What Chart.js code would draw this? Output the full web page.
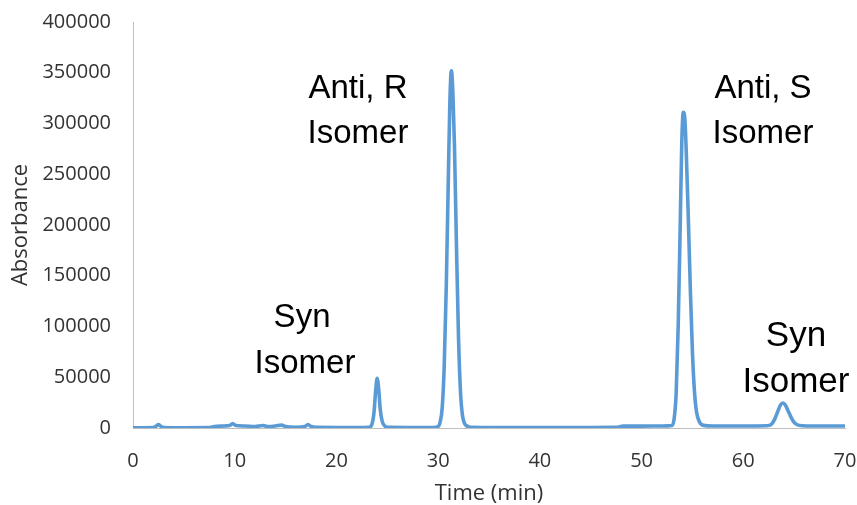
<!DOCTYPE html>
<html>
<head>
<meta charset="utf-8">
<script src="https://cdn.jsdelivr.net/npm/chart.js@4/dist/chart.umd.min.js"></script>
<style>
  html, body { margin: 0; padding: 0; background: #ffffff; }
  #wrap { width: 857px; height: 505px; }
</style>
</head>
<body>
<div id="wrap"><canvas id="c" width="857" height="505"></canvas></div>
<script>
// ---- Data ----
const timeMin = [
  0, 1, 2, 2.3, 2.5, 2.7, 3.0, 5, 7.5, 8, 9, 9.5, 9.8, 10.1, 11, 12, 12.8, 13.2, 14, 14.6,
  15, 16, 16.9, 17.2, 17.5, 18, 20, 22, 23.2, 23.5, 23.7, 23.85, 24.0, 24.15, 24.3, 24.5, 24.8, 25.2,
  27, 29.5, 30.0, 30.2, 30.4, 30.6, 30.8, 31.0, 31.15, 31.3, 31.45, 31.6, 31.8, 32.0, 32.2, 32.4, 32.7, 33.2,
  36, 40, 44, 47.5, 48.2, 50, 52, 53.0, 53.2, 53.4, 53.6, 53.8, 53.95, 54.1, 54.25, 54.4, 54.6, 54.8,
  55.0, 55.2, 55.4, 55.7, 56.1, 57, 60, 62.3, 62.8, 63.1, 63.4, 63.65, 63.9, 64.15, 64.4, 64.7, 65.0,
  65.3, 65.8, 67, 70
];
const absorbance = [
  300, 300, 400, 2000, 3500, 2000, 500, 300, 400, 1500, 2000, 2500, 4500, 2500, 2000, 1500, 2500, 1500, 2000, 2800,
  1500, 800, 1500, 3500, 1500, 600, 500, 500, 800, 4000, 16000, 36000, 49000, 39000, 19000, 6500, 1500, 600,
  500, 500, 1500, 6000, 20000, 62000, 140000, 245000, 320000, 352000, 330000, 280000, 180000, 90000, 35000, 12000, 3000, 800,
  500, 400, 500, 600, 1800, 1800, 2000, 2500, 9000, 34000, 100000, 200000, 280000, 311000, 305000, 270000, 205000, 135000,
  75000, 36000, 16000, 6000, 2600, 2000, 2000, 2200, 4000, 9000, 16500, 22500, 24600, 22500, 17000, 10500, 5500,
  3200, 2200, 2000, 2000
];
const xTicks = [0, 10, 20, 30, 40, 50, 60, 70];
const yTicks = [0, 50000, 100000, 150000, 200000, 250000, 300000, 350000, 400000];
const xTitle = "Time (min)";
const yTitle = "Absorbance";
// Peak labels: text line, anchored at (time, absorbance) = centre / baseline of the text
const peakLabels = [
  { text: "Anti, R", t: 22.12, a: 325100, size: 33 },
  { text: "Isomer",  t: 22.12, a: 280800, size: 33 },
  { text: "Syn",     t: 16.62, a: 99500,  size: 33 },
  { text: "Isomer",  t: 16.91, a: 54200,  size: 33 },
  { text: "Anti, S", t: 61.94, a: 325100, size: 33 },
  { text: "Isomer",  t: 61.94, a: 280800, size: 33 },
  { text: "Syn",     t: 65.18, a: 80800,  size: 35 },
  { text: "Isomer",  t: 65.18, a: 35500,  size: 35 }
];

const points = timeMin.map((t, i) => ({ x: t, y: absorbance[i] }));

const peakLabelPlugin = {
  id: 'peakLabels',
  afterDatasetsDraw(chart) {
    const { ctx, scales: { x, y } } = chart;
    ctx.save();
    ctx.fillStyle = '#000000';
    ctx.textAlign = 'center';
    ctx.textBaseline = 'alphabetic';
    peakLabels.forEach(l => {
      ctx.font = l.size + 'px "Liberation Sans", Arial, sans-serif';
      ctx.fillText(l.text, x.getPixelForValue(l.t), y.getPixelForValue(l.a));
    });
    ctx.restore();
  }
};

new Chart(document.getElementById('c'), {
  type: 'line',
  data: {
    datasets: [{
      label: 'Absorbance',
      data: points,
      borderColor: '#5B9BD5',
      borderWidth: 3.6,
      pointRadius: 0,
      fill: false,
      cubicInterpolationMode: 'monotone',
      borderJoinStyle: 'round',
      borderCapStyle: 'round'
    }]
  },
  options: {
    responsive: false,
    devicePixelRatio: 1,
    animation: false,
    layout: { padding: { top: 22, right: 12, left: 0, bottom: 0 } },
    plugins: { legend: { display: false }, tooltip: { enabled: false } },
    scales: {
      x: {
        type: 'linear',
        min: 0, max: 70,
        afterFit: s => { s.height = 77; s.paddingLeft = 0; s.paddingRight = 0; },
        afterBuildTicks: s => { s.ticks = xTicks.map(v => ({ value: v })); },
        grid: { display: false, drawTicks: false },
        border: { display: true, color: '#BFBFBF', width: 1 },
        ticks: {
          padding: 21,
          color: '#333333',
          font: { family: '"Open Sans", sans-serif', size: 20 },
          maxRotation: 0,
          callback: v => String(v)
        },
        title: {
          display: true, text: xTitle, color: '#333333',
          font: { family: '"Open Sans", sans-serif', size: 22, lineHeight: 1.0 },
          padding: { top: 0, bottom: 0 }
        }
      },
      y: {
        type: 'linear',
        min: 0, max: 400000,
        afterFit: s => { s.width = 133; s.paddingTop = 0; s.paddingBottom = 0; },
        afterBuildTicks: s => { s.ticks = yTicks.map(v => ({ value: v })); },
        grid: { display: false, drawTicks: false },
        border: { display: true, color: '#BFBFBF', width: 1 },
        ticks: {
          padding: 22,
          color: '#333333',
          font: { family: '"Open Sans", sans-serif', size: 20 },
          callback: v => String(v)
        },
        title: {
          display: true, text: yTitle, color: '#333333',
          font: { family: '"Open Sans", sans-serif', size: 22, lineHeight: 1.0 },
          padding: { top: 10, bottom: 10 }
        }
      }
    }
  },
  plugins: [peakLabelPlugin]
});
</script>
</body>
</html>
